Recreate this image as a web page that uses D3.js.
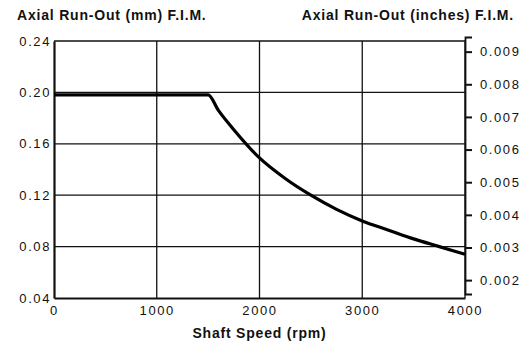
<!DOCTYPE html>
<html>
<head>
<meta charset="utf-8">
<script src="https://cdn.jsdelivr.net/npm/d3@7"></script>
<style>
  body { margin: 0; background: #fff; }
  svg text { font-family: "Liberation Sans", Arial, sans-serif; fill: #111; }
</style>
</head>
<body>
<svg id="chart" width="526" height="347"></svg>
<script>
// data
const speedRpm = [0, 500, 1000, 1500, 1600, 1750, 2000, 2250, 2500, 2750, 3000, 3250, 3500, 3750, 4000];
const runOutMm = [0.198, 0.198, 0.198, 0.198, 0.186, 0.171, 0.149, 0.133, 0.120, 0.109, 0.100, 0.093, 0.086, 0.080, 0.074];
const xTicks = [0, 1000, 2000, 3000, 4000];
const mmTicks = [0.04, 0.08, 0.12, 0.16, 0.20, 0.24];
const inchTicks = [0.002, 0.003, 0.004, 0.005, 0.006, 0.007, 0.008, 0.009];

const margin = {top: 41, right: 61, bottom: 49, left: 54};
const width = 526 - margin.left - margin.right;
const height = 347 - margin.top - margin.bottom;

const svg = d3.select("#chart");
const g = svg.append("g")
  .attr("transform", "translate(" + margin.left + "," + margin.top + ")");

const x = d3.scaleLinear().domain([0, 4000]).range([0, width]);
const y = d3.scaleLinear().domain([0.04, 0.24]).range([height, 0]);
// inch scale (printed slightly higher than the exact conversion)
const y2 = d3.scaleLinear().domain([0.04 / 25.4, 0.24 / 25.4]).range([height - 4, -4]);

// grid
g.append("g").selectAll("line.h")
  .data(mmTicks.slice(1))
  .enter().append("line")
  .attr("x1", 0).attr("x2", width)
  .attr("y1", d => y(d)).attr("y2", d => y(d))
  .attr("stroke", "#111").attr("stroke-width", 1.3);

g.append("g").selectAll("line.v")
  .data(xTicks.slice(1))
  .enter().append("line")
  .attr("x1", d => x(d)).attr("x2", d => x(d))
  .attr("y1", 0).attr("y2", height)
  .attr("stroke", "#111").attr("stroke-width", 1.3);

// left axis
const left = g.append("g")
  .call(d3.axisLeft(y).tickValues(mmTicks).tickFormat(d3.format(".2f")).tickSize(0).tickPadding(3));
left.select(".domain").attr("stroke", "#111").attr("stroke-width", 2.2);
left.selectAll("text").style("font-size", "13px").style("letter-spacing", "1.6px");

// bottom axis
const bottom = g.append("g")
  .attr("transform", "translate(0," + height + ")")
  .call(d3.axisBottom(x).tickValues(xTicks).tickFormat(d3.format("d")).tickSize(0).tickPadding(8));
bottom.select(".domain").attr("stroke", "#111").attr("stroke-width", 2);
bottom.selectAll("text").style("font-size", "13px").style("letter-spacing", "1.6px");

// right axis
const right = g.append("g")
  .attr("transform", "translate(" + width + ",0)")
  .call(d3.axisRight(y2).tickValues(inchTicks).tickFormat(d3.format(".3f")).tickSize(7).tickPadding(8));
right.select(".domain").attr("stroke", "#111").attr("stroke-width", 1.8);
right.selectAll(".tick line").attr("stroke", "#111").attr("stroke-width", 2);
right.selectAll("text").style("font-size", "13px").style("letter-spacing", "1.6px");

// curve
const line = d3.line()
  .x((d, i) => x(speedRpm[i]))
  .y(d => y(d))
  .curve(d3.curveMonotoneX);
g.append("path")
  .datum(runOutMm)
  .attr("d", line)
  .attr("fill", "none")
  .attr("stroke", "#000")
  .attr("stroke-width", 3.2)
  .attr("stroke-linejoin", "round");

// titles
svg.append("text")
  .attr("x", 17).attr("y", 20)
  .style("font-size", "14px").style("font-weight", "bold").style("letter-spacing", "0.8px")
  .text("Axial Run-Out (mm) F.I.M.");
svg.append("text")
  .attr("x", 514).attr("y", 20)
  .attr("text-anchor", "end")
  .style("font-size", "14px").style("font-weight", "bold").style("letter-spacing", "0.8px")
  .text("Axial Run-Out (inches) F.I.M.");
svg.append("text")
  .attr("x", margin.left + width / 2).attr("y", 338)
  .attr("text-anchor", "middle")
  .style("font-size", "14px").style("font-weight", "bold").style("letter-spacing", "0.8px")
  .text("Shaft Speed (rpm)");
</script>
</body>
</html>
